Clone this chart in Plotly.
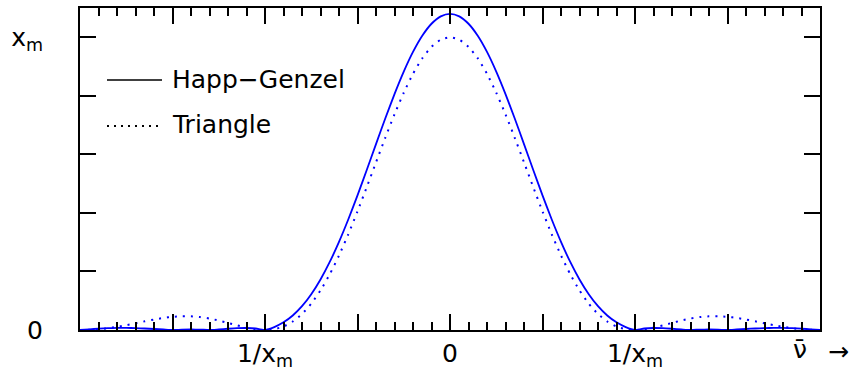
import plotly.graph_objects as go

# frequency in units of 1/x_m
nu = [-2.0, -1.95, -1.9, -1.85, -1.8, -1.75, -1.7, -1.65, -1.6, -1.55,
      -1.5, -1.45, -1.4, -1.35, -1.3, -1.25, -1.2, -1.15, -1.1, -1.05,
      -1.0, -0.95, -0.9, -0.85, -0.8, -0.75, -0.7, -0.65, -0.6, -0.55,
      -0.5, -0.45, -0.4, -0.35, -0.3, -0.25, -0.2, -0.15, -0.1, -0.05,
      0.0, 0.05, 0.1, 0.15, 0.2, 0.25, 0.3, 0.35, 0.4, 0.45,
      0.5, 0.55, 0.6, 0.65, 0.7, 0.75, 0.8, 0.85, 0.9, 0.95,
      1.0, 1.05, 1.1, 1.15, 1.2, 1.25, 1.3, 1.35, 1.4, 1.45,
      1.5, 1.55, 1.6, 1.65, 1.7, 1.75, 1.8, 1.85, 1.9, 1.95, 2.0]

# Happ-Genzel line shape (units of x_m)
happ_genzel = [0.0, 0.0024, 0.0045, 0.0061, 0.0070, 0.0071, 0.0065, 0.0052, 0.0035, 0.0017,
               0.0, 0.0012, 0.0017, 0.0013, 0.0, 0.0019, 0.0042, 0.0061, 0.0068, 0.0051,
               0.0, 0.0100, 0.0261, 0.0495, 0.0813, 0.1222, 0.1726, 0.2324, 0.3011, 0.3775,
               0.4600, 0.5467, 0.6351, 0.7225, 0.8060, 0.8828, 0.9500, 1.0052, 1.0462, 1.0715,
               1.0800, 1.0715, 1.0462, 1.0052, 0.9500, 0.8828, 0.8060, 0.7225, 0.6351, 0.5467,
               0.4600, 0.3775, 0.3011, 0.2324, 0.1726, 0.1222, 0.0813, 0.0495, 0.0261, 0.0100,
               0.0, 0.0051, 0.0068, 0.0061, 0.0042, 0.0019, 0.0, 0.0013, 0.0017, 0.0012,
               0.0, 0.0017, 0.0035, 0.0052, 0.0065, 0.0071, 0.0070, 0.0061, 0.0045, 0.0024, 0.0]

# Triangle line shape (units of x_m)
triangle = [0.0, 0.0007, 0.0027, 0.0061, 0.0108, 0.0165, 0.0230, 0.0296, 0.0358, 0.0411,
            0.0450, 0.0470, 0.0468, 0.0441, 0.0392, 0.0324, 0.0243, 0.0158, 0.0080, 0.0023,
            0.0, 0.0028, 0.0119, 0.0289, 0.0547, 0.0901, 0.1353, 0.1904, 0.2546, 0.3267,
            0.4053, 0.4881, 0.5728, 0.6566, 0.7368, 0.8106, 0.8751, 0.9281, 0.9675, 0.9918,
            1.0, 0.9918, 0.9675, 0.9281, 0.8751, 0.8106, 0.7368, 0.6566, 0.5728, 0.4881,
            0.4053, 0.3267, 0.2546, 0.1904, 0.1353, 0.0901, 0.0547, 0.0289, 0.0119, 0.0028,
            0.0, 0.0023, 0.0080, 0.0158, 0.0243, 0.0324, 0.0392, 0.0441, 0.0468, 0.0470,
            0.0450, 0.0411, 0.0358, 0.0296, 0.0230, 0.0165, 0.0108, 0.0061, 0.0027, 0.0007, 0.0]

x_tickvals = [-1, 0, 1]
x_ticktext = ["1/x<sub>m</sub>", "0", "1/x<sub>m</sub>"]
x_unlabeled_majors = [-1.5, -0.5, 0.5, 1.5]
y_tickvals = [0, 1]
y_ticktext = ["0", "x<sub>m</sub>"]
legend_names = ["Happ−Genzel", "Triangle"]

BLUE = "#0000ff"
FONT = "DejaVu Sans"

fig = go.Figure()
fig.add_trace(go.Scatter(x=nu, y=happ_genzel, mode="lines", name=legend_names[0],
                         line=dict(color=BLUE, width=1.8, shape="spline", smoothing=0.6)))
fig.add_trace(go.Scatter(x=nu, y=triangle, mode="lines", name=legend_names[1],
                         line=dict(color=BLUE, width=2, dash="2px,6px", shape="spline", smoothing=0.6)))
# invisible carrier trace for the overlaid tick axis
fig.add_trace(go.Scatter(x=nu, y=triangle, mode="lines", xaxis="x2", showlegend=False,
                         hoverinfo="skip", line=dict(width=0), opacity=0))

L, R, T, B = 80, 29, 8, 45
W, H = 849, 375
pw, ph = W - L - R, H - T - B

def px(x):
    return (x - L) / pw

def py(y):
    return (H - B - y) / ph

axis_common = dict(showline=True, linecolor="black", linewidth=2, mirror="allticks",
                   ticks="inside", tickcolor="black", tickwidth=1.5, ticklen=16,
                   showgrid=False, zeroline=False, automargin=False,
                   tickfont=dict(family=FONT, size=25, color="black"))

fig.update_layout(
    xaxis=dict(range=[-2, 2], tickmode="array", tickvals=x_tickvals, ticktext=x_ticktext,
               ticklabelstandoff=0,
               minor=dict(tickmode="linear", tick0=0, dtick=0.1, ticks="inside",
                          ticklen=8, tickwidth=1.5, tickcolor="black", showgrid=False),
               **axis_common),
    xaxis2=dict(range=[-2, 2], overlaying="x", side="bottom", anchor="y",
                tickmode="array", tickvals=x_unlabeled_majors, showticklabels=False,
                **axis_common),
    yaxis=dict(range=[0, 1.1], tickmode="array", tickvals=y_tickvals, ticktext=y_ticktext,
               ticklabelstandoff=30,
               minor=dict(tickmode="linear", tick0=0, dtick=0.2, ticks="inside",
                          ticklen=8, tickwidth=1.5, tickcolor="black", showgrid=False),
               **axis_common),
)

shapes = [
    dict(type="line", xref="paper", yref="paper", x0=px(107), x1=px(162), y0=py(80), y1=py(80),
         line=dict(color="black", width=1.5)),
    dict(type="line", xref="paper", yref="paper", x0=px(107), x1=px(158), y0=py(126), y1=py(126),
         line=dict(color="black", width=2, dash="2px,5px")),
]
annotations = [
    dict(text=legend_names[0], xref="paper", yref="paper", x=px(170), y=py(79),
         xanchor="left", yanchor="middle", showarrow=False,
         font=dict(family=FONT, size=25, color="black")),
    dict(text=legend_names[1], xref="paper", yref="paper", x=px(170), y=py(125),
         xanchor="left", yanchor="middle", showarrow=False,
         font=dict(family=FONT, size=25, color="black")),
    dict(text="ν\u0304", xref="paper", yref="paper", x=px(800), y=py(350),
         xanchor="center", yanchor="middle", showarrow=False,
         font=dict(family=FONT, size=25, color="black")),
    dict(text="→", xref="paper", yref="paper", x=px(838), y=py(351),
         xanchor="center", yanchor="middle", showarrow=False,
         font=dict(family=FONT, size=25, color="black")),
]

fig.update_layout(width=W, height=H, margin=dict(l=L, r=R, t=T, b=B),
                  paper_bgcolor="white", plot_bgcolor="white", showlegend=False,
                  shapes=shapes, annotations=annotations)

fig.write_html("out.html")
